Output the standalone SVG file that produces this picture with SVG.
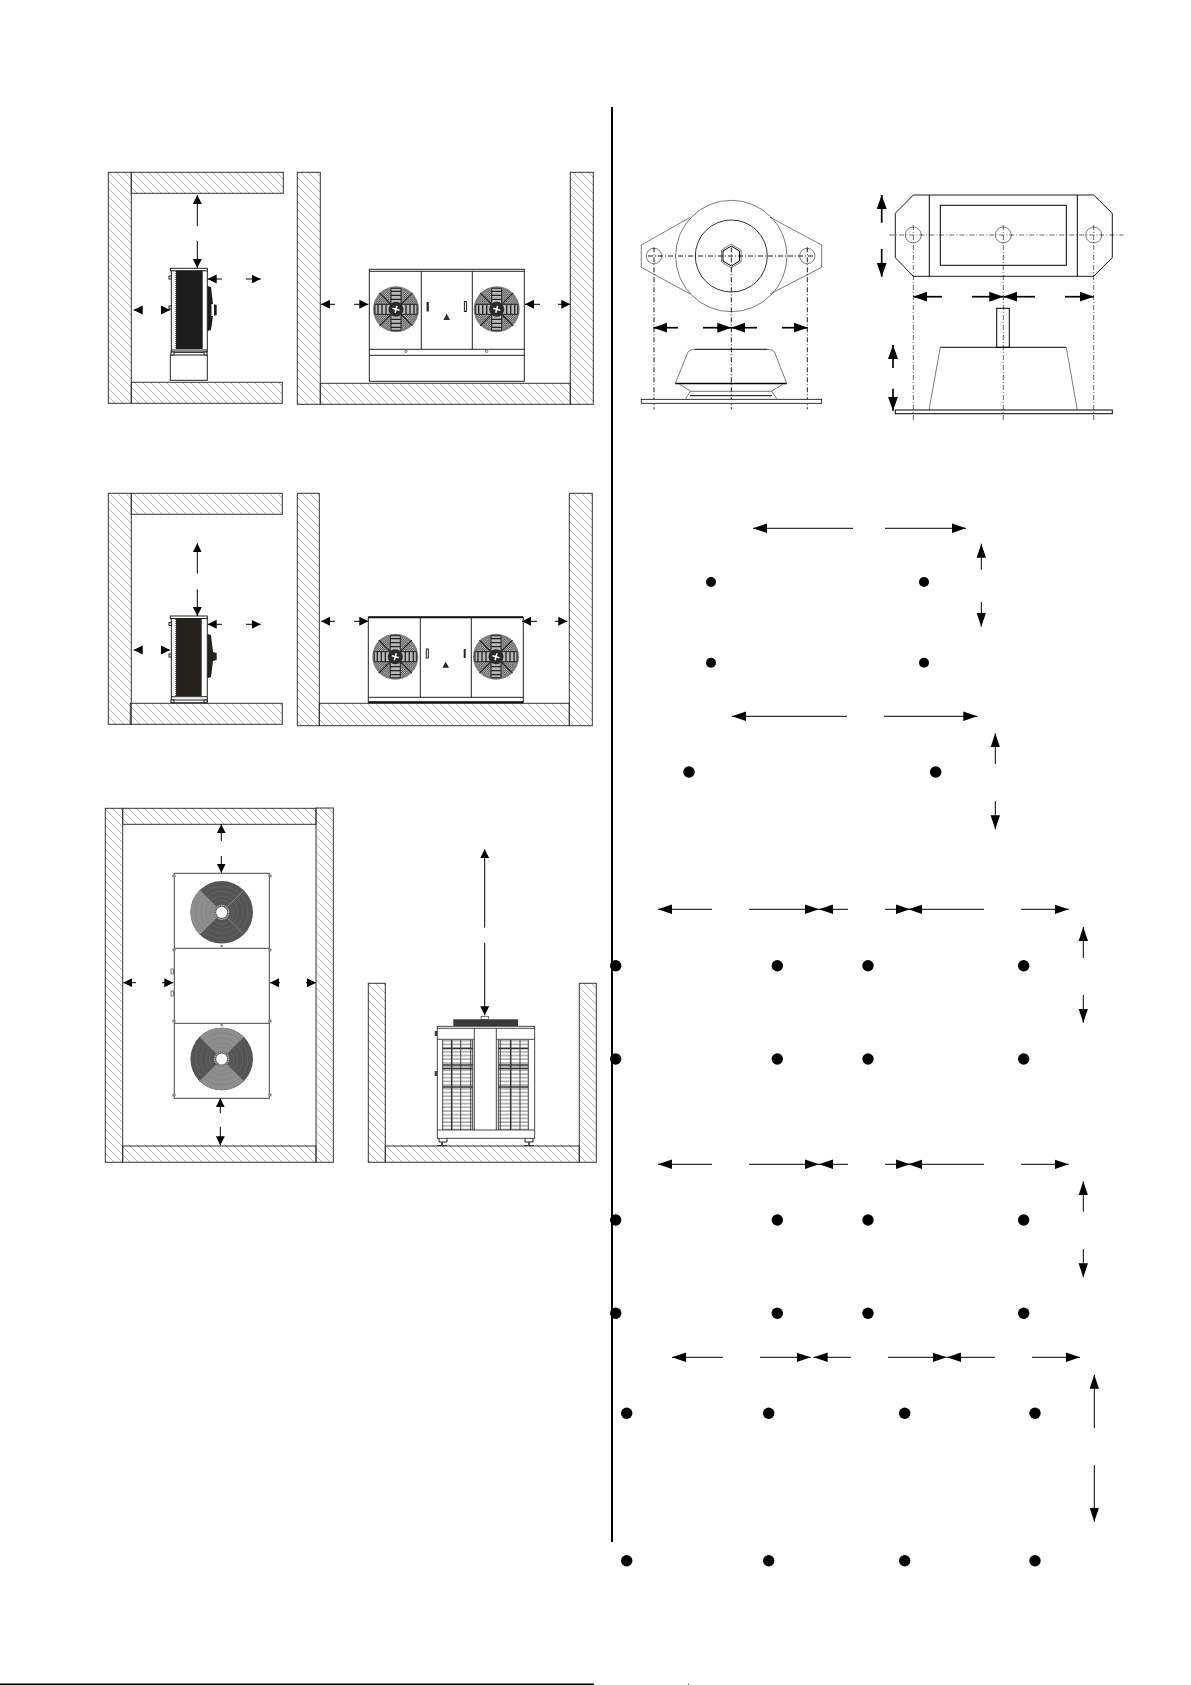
<svg xmlns="http://www.w3.org/2000/svg" xmlns:xlink="http://www.w3.org/1999/xlink" width="1191" height="1685" viewBox="0 0 1191 1685">
<style>
.w{fill:url(#h);stroke:#333;stroke-width:1}
.u{fill:#fff;stroke:#222;stroke-width:1}
.n{fill:none;stroke:#222;stroke-width:1}
.g{fill:none;stroke:#444;stroke-width:.7}
.b{fill:none;stroke:#000;stroke-width:1}
.c{fill:none;stroke:#000;stroke-width:.9;stroke-dasharray:5 2 1 2}
.d{fill:#1c1c1c}
.a line,line.a{stroke:#000;stroke-width:1}
.s line{marker-end:url(#s)}
.m line{marker-end:url(#m)}
.t line{marker-end:url(#t);stroke-width:1.7}
.p circle{fill:#000}
</style>
<defs>
<pattern id="h" width="8" height="8" patternUnits="userSpaceOnUse"><path d="M-1 -1L9 9M-1 7L1 9M7 -1L9 1" stroke="#777" stroke-width=".5" fill="none"/></pattern>
<pattern id="f" width="2.2" height="2.2" patternUnits="userSpaceOnUse"><path d="M0 2.2L2.2 0" stroke="#333" stroke-width=".8"/></pattern>
<pattern id="r" width="10" height="3.7" patternUnits="userSpaceOnUse"><path d="M0 1H10" stroke="#333" stroke-width=".7"/></pattern>
<marker id="s" markerUnits="userSpaceOnUse" markerWidth="10" markerHeight="10" refX="9" refY="5" orient="auto"><path d="M0 .5L9 5L0 9.5z"/></marker>
<marker id="m" markerUnits="userSpaceOnUse" markerWidth="15" markerHeight="10" refX="14" refY="5" orient="auto"><path d="M0 .3L14 5L0 9.7z"/></marker>
<marker id="t" markerUnits="userSpaceOnUse" markerWidth="15" markerHeight="11" refX="14" refY="5.5" orient="auto"><path d="M0 .5L14 5.5L0 10.5z"/></marker>
<g id="fan">
<circle r="23" fill="#7e7e7e"/>
<circle r="20" fill="#c4c4c4"/>
<circle r="20" fill="url(#f)"/>
<path d="M-16.500 -16.500L16.500 16.500M-16.500 16.500L16.500 -16.500" stroke="#222" stroke-width="1.200"/>
<path d="M-5 -21h10v42h-10zM-21 -5h42v10h-42z" fill="#b8b8b8" stroke="#222" stroke-width="1"/>
<path d="M-5 -18h10M-5 -14h10M-5 -10h10M-5 10h10M-5 14h10M-5 18h10M-18 -5v10M-14 -5v10M-10 -5v10M10 -5v10M14 -5v10M18 -5v10" stroke="#222" stroke-width="1.300"/>
<circle r="7.500" fill="#2a2a2a"/>
<path d="M-3.500 -1L3.500 1M-1 3.500L1 -3.500" stroke="#fff" stroke-width="1.500"/>
</g>
<g id="rings" fill="none" stroke="#777" stroke-width=".4"><circle r="26"/><circle r="21"/><circle r="16"/><circle r="12"/></g>
</defs>
<rect width="1191" height="1685" fill="#fff"/>

<g id="wall-side-1"><rect class="w" x="108.300" y="172.300" width="23" height="231"/><rect class="w" x="131.300" y="172.300" width="152" height="21"/><rect class="w" x="131.300" y="382.300" width="151" height="21"/></g>
<g id="wall-front-1"><rect class="w" x="297.300" y="172.300" width="23" height="232"/><rect class="w" x="570.300" y="172.300" width="23" height="232"/><rect class="w" x="320.300" y="383.300" width="250" height="21"/></g>
<g id="unit-side-1">
<rect class="u" x="170.300" y="355" width="37" height="25.300"/>
<rect class="u" x="171.300" y="270" width="36" height="82"/>
<rect class="u" x="170.300" y="268.300" width="37" height="2.500"/>
<rect class="d" x="176" y="270.500" width="26.700" height="78.500"/>
<path d="M175.500 271V349" stroke="#777" stroke-width="1.200" stroke-dasharray="1 1"/>
<path d="M171 350H207M171 352.300H207" class="n"/>
<rect class="u" x="171" y="352" width="3" height="3"/><rect class="u" x="204" y="352" width="3" height="3"/>
<rect class="u" x="169" y="276" width="2.300" height="3"/><rect class="u" x="169" y="306" width="2.300" height="3"/>
<path class="d" d="M207.500 286L211 287L213 304L216.700 305V315L213 316L211 330L207.500 331z"/>
<rect x="211.500" y="304" width="2.500" height="12" fill="#fff"/>
</g>
<g id="unit-front-1">
<rect class="u" x="369.300" y="269.300" width="155" height="112"/>
<path class="n" d="M369.300 271.300H524.300M421.300 271.300V349.300M472.300 271.300V349.300M369.300 349.300H524.300M369.300 355.300H524.300"/>
<use xlink:href="#fan" href="#fan" x="396" y="309.300"/><use xlink:href="#fan" href="#fan" x="496.700" y="309.300"/>
<path d="M427.700 302V311.500" stroke="#222" stroke-width="2.200"/><rect class="n" x="464.400" y="301.500" width="2" height="10"/>
<path d="M446.700 313.500L450 320H443.400z" fill="#333"/>
<circle class="g" cx="406" cy="351.300" r="1.200"/><circle class="g" cx="486.700" cy="351.300" r="1.200"/>
</g>

<g id="wall-side-2"><rect class="w" x="108.300" y="493.300" width="23" height="231"/><rect class="w" x="131.300" y="493.300" width="151" height="21"/><rect class="w" x="130.300" y="703.300" width="152" height="21"/></g>
<g id="wall-front-2"><rect class="w" x="297.300" y="493.300" width="22" height="232.400"/><rect class="w" x="569.300" y="493.300" width="23" height="232.400"/><rect class="w" x="319.300" y="703.300" width="250" height="22.400"/></g>
<g id="unit-side-2">
<rect class="u" x="171.300" y="618" width="36" height="84.700"/>
<rect class="u" x="170.300" y="616" width="37" height="2.500"/>
<rect x="176" y="618.300" width="25.700" height="77.700" fill="#24211c"/>
<path d="M175.500 619V696" stroke="#777" stroke-width="1.200" stroke-dasharray="1 1"/>
<path class="n" d="M171 696.700H207M171 700H207"/>
<rect class="u" x="171" y="700" width="3" height="2.700"/><rect class="u" x="204" y="700" width="3" height="2.700"/>
<rect class="u" x="169" y="622.500" width="2.300" height="3"/><rect class="u" x="169" y="654" width="2.300" height="3"/>
<path d="M207.500 634L211 635L213 652L216.700 653V660L213 661L211 677L207.500 678.300z" fill="#24211c"/>
</g>
<g id="unit-front-2">
<rect class="u" x="368.300" y="617.300" width="155" height="85"/>
<path d="M368.300 617.300H523.300M368.300 702.300H523.300" stroke="#111" stroke-width="2"/>
<path class="n" d="M420.300 617.300V697.300M471.300 617.300V697.300M368.300 697.300H523.300"/>
<use xlink:href="#fan" href="#fan" x="395.300" y="656.700"/><use xlink:href="#fan" href="#fan" x="496" y="656.700"/>
<rect class="n" x="426.300" y="649" width="2" height="9"/><path d="M464.700 649V658" stroke="#222" stroke-width="2"/>
<path d="M445.700 661.700L449 667.700H442.400z" fill="#222"/>
</g>

<g id="wall-top-3"><rect class="w" x="105.300" y="808.300" width="17.400" height="354"/><rect class="w" x="316" y="808" width="17.300" height="354.300"/><rect class="w" x="122.700" y="808.300" width="193.300" height="16"/><rect class="w" x="122.700" y="1146" width="193.300" height="16.300"/></g>
<g id="unit-top-3">
<rect x="174.300" y="873.300" width="95" height="225" fill="#fff" stroke="#444" stroke-width="1"/>
<path d="M174.300 948.300H269.300M174.300 1023.300H269.300" stroke="#444" stroke-width="1"/>
<circle cx="221.700" cy="912.300" r="31.300" fill="#555"/>
<path d="M221.700 912.300L199.600 890.200A31.300 31.300 0 0 0 199.600 934.400z" fill="#8e8e8e"/>
<use xlink:href="#rings" href="#rings" x="221.700" y="912.300"/>
<path d="M221.700 912.300L199.600 890.200M221.700 912.300L199.600 934.400M221.700 912.300L243.800 890.200M221.700 912.300L243.800 934.400" stroke="#999" stroke-width=".7"/>
<circle cx="221.700" cy="912.300" r="8" fill="#666"/><circle cx="221.700" cy="912.300" r="7" fill="none" stroke="#ddd" stroke-width="1" stroke-dasharray="1 1"/><circle cx="221.700" cy="912.300" r="5.500" fill="#fff"/>
<circle cx="221.700" cy="1059" r="31.300" fill="#555"/>
<path d="M221.700 1059L199.600 1036.900A31.300 31.300 0 0 1 243.800 1036.900zM221.700 1059L199.600 1081.100A31.300 31.300 0 0 0 243.800 1081.100z" fill="#8e8e8e"/>
<use xlink:href="#rings" href="#rings" x="221.700" y="1059"/>
<circle cx="221.700" cy="1059" r="8" fill="#666"/><circle cx="221.700" cy="1059" r="7" fill="none" stroke="#ddd" stroke-width="1" stroke-dasharray="1 1"/><circle cx="221.700" cy="1059" r="5.500" fill="#fff"/>
<rect class="g" x="171" y="969" width="2.500" height="5"/><rect class="g" x="171" y="991" width="2.500" height="5"/>
<g fill="#888"><circle cx="221.700" cy="946" r="1.300"/><circle cx="221.700" cy="1025" r="1.300"/><circle cx="174" cy="950" r="1.800"/><circle cx="270" cy="950" r="1.800"/><circle cx="174" cy="1021" r="1.800"/><circle cx="270" cy="1021" r="1.800"/><circle cx="174" cy="876" r="1.800"/><circle cx="270" cy="876" r="1.800"/><circle cx="174" cy="1095" r="1.800"/><circle cx="270" cy="1095" r="1.800"/></g>
</g>
<g id="wall-front-3"><rect class="w" x="368.300" y="983.300" width="17" height="179"/><rect class="w" x="579.300" y="983.300" width="17" height="179"/><rect class="w" x="385.300" y="1146" width="194" height="16.300"/></g>
<g id="unit-front-3">
<rect x="453.300" y="1019.300" width="64.700" height="6.700" fill="#3a3a3a"/>
<rect class="g" x="481" y="1016.500" width="7.500" height="3"/>
<rect x="437.300" y="1026.300" width="97.400" height="112" fill="#fff" stroke="#333" stroke-width=".9"/>
<path stroke="#333" stroke-width=".9" fill="none" d="M437.300 1028.300H534.700M437.300 1039.300H474.300M496.300 1039.300H534.700M437.300 1130H534.700M474.300 1028V1130M496.300 1028V1130"/>
<rect x="442.700" y="1040" width="30" height="90" fill="url(#r)"/>
<rect x="498.300" y="1040" width="30" height="90" fill="url(#r)"/>
<path stroke="#333" stroke-width=".9" fill="none" d="M442.700 1040V1130M460.700 1040V1130M470.700 1040V1130M472.700 1040V1130M498.300 1040V1130M500.300 1040V1130M520 1040V1130M528.300 1040V1130"/>
<path stroke="#333" stroke-width="1.500" fill="none" d="M451.700 1040V1130M510.700 1040V1130M442.700 1048.500H472.700M498.300 1048.500H528.300M442.700 1065H472.700M498.300 1065H528.300M442.700 1068.500H472.700M498.300 1068.500H528.300M442.700 1087H472.700M498.300 1087H528.300"/>
<rect x="434.700" y="1031" width="2.600" height="5" fill="#444"/><rect x="434.700" y="1071" width="2.600" height="5" fill="#444"/>
<path class="n" d="M439 1138.300V1142H447V1138.300M525 1138.300V1142H533V1138.300"/>
<path d="M437 1145.500H447M524 1145.500H534" stroke="#333" stroke-width="1.200"/>
<path d="M442 1142V1145M529 1142V1145" stroke="#333" stroke-width="1.500"/>
</g>

<g id="divider"><rect x="611" y="107" width="2" height="1435" fill="#000"/></g>
<g id="footer-rule"><rect x="0" y="1683.500" width="594" height="1.500" fill="#000"/><rect x="688" y="1684" width="1" height="1" fill="#111"/></g>

<g id="mount-round">
<path class="g" d="M690.300 217.300L641.300 245V267.300L690.300 294M770 217.300L821.700 245V267.300L770 294"/>
<circle class="g" cx="731.300" cy="256" r="55.700"/>
<circle class="b" cx="731.300" cy="256" r="36" style="stroke-width:.8"/>
<path class="g" d="M731.300 244.200L741 250V262L731.300 267.800L721.600 262V250z"/>
<path class="b" d="M731.300 246L739.500 251V261L731.300 266L723 261V251z"/>
<circle class="g" cx="654" cy="256" r="7.700"/><circle class="g" cx="807.300" cy="256" r="7.700"/>
<path class="c" d="M648 256H813.300M654 247.300V409.300M731.300 247.300V409.300M807.300 247.300V409.300"/>
<path class="b" d="M695 349.300H767.300"/>
<path class="g" d="M695 349.300Q689 349.500 688 352L675.300 383.300M767.300 349.300Q773 349.500 774.500 352L786.700 383.300M679.300 384.300L690.700 391L685.700 398.700M783 384.300L771.700 391L776.700 398.700M690.700 391.300H771.700"/>
<path d="M675.300 383.500H786.700" stroke="#000" stroke-width="1.500"/>
<path class="b" d="M690 395.700H772"/>
<rect class="u" x="641.300" y="399.300" width="180.400" height="4" style="stroke:#000;stroke-width:.8"/>
</g>
<g id="mount-rect">
<path class="b" d="M913.300 195H1093.700L1112.300 213.300V257.700L1093.700 276.300H913.300L895.300 257.700V213.300z" style="stroke-width:.9"/>
<path class="b" d="M929.300 195V276.300M1077.300 195V276.300"/>
<rect class="b" x="940.300" y="205.300" width="126" height="60"/>
<circle class="g" cx="913.300" cy="235" r="8"/><circle class="g" cx="1003.300" cy="235" r="8"/><circle class="g" cx="1093.700" cy="235" r="8"/>
<path class="c" style="stroke-width:.6" d="M889.300 235H1123.300M913.300 225V421.700M1003.300 225V421.700M1093.700 225V421.700"/>
<rect class="b" x="996.700" y="308.300" width="12.600" height="39"/>
<path class="b" d="M940.300 347.300H1066.300"/>
<path class="g" d="M940.300 347.300L929 410M1066.300 347.300L1077.300 410"/>
<rect class="b" x="895.300" y="410" width="217" height="3.700"/>
</g>

<g id="dots" class="p">
<circle cx="711" cy="582" r="5"/><circle cx="924" cy="582" r="5"/><circle cx="711" cy="662.700" r="5"/><circle cx="924" cy="662.700" r="5"/>
<circle cx="689" cy="772" r="5.800"/><circle cx="935.700" cy="772" r="5.800"/>
<circle cx="615.700" cy="965.700" r="5.700"/><circle cx="777.300" cy="965.700" r="5.700"/><circle cx="868" cy="965.700" r="5.700"/><circle cx="1023.700" cy="965.700" r="5.700"/>
<circle cx="615.700" cy="1059" r="5.700"/><circle cx="777.300" cy="1059" r="5.700"/><circle cx="868" cy="1059" r="5.700"/><circle cx="1023.700" cy="1059" r="5.700"/>
<circle cx="615.700" cy="1220" r="5.700"/><circle cx="777.300" cy="1220" r="5.700"/><circle cx="868" cy="1220" r="5.700"/><circle cx="1023.700" cy="1220" r="5.700"/>
<circle cx="615.700" cy="1313.300" r="5.700"/><circle cx="777.300" cy="1313.300" r="5.700"/><circle cx="868" cy="1313.300" r="5.700"/><circle cx="1023.700" cy="1313.300" r="5.700"/>
<circle cx="626.700" cy="1413.300" r="5.700"/><circle cx="768.700" cy="1413.300" r="5.700"/><circle cx="904.700" cy="1413.300" r="5.700"/><circle cx="1035" cy="1413.300" r="5.700"/>
<circle cx="626.700" cy="1560.700" r="5.700"/><circle cx="768.700" cy="1560.700" r="5.700"/><circle cx="904.700" cy="1560.700" r="5.700"/><circle cx="1035" cy="1560.700" r="5.700"/>
</g>

<g id="connectors" class="a">
<g class="s">
<line x1="197.300" y1="226" x2="197.300" y2="195"/><line x1="197.300" y1="241" x2="197.300" y2="268"/>
<line x1="142.700" y1="310" x2="133.700" y2="310"/><line x1="161" y1="310" x2="170" y2="310"/>
<line x1="222" y1="279" x2="207.700" y2="279"/><line x1="246" y1="279" x2="260.700" y2="279"/>
<line x1="335" y1="304.300" x2="321" y2="304.300"/><line x1="354" y1="304.300" x2="368.300" y2="304.300"/>
<line x1="540" y1="304.300" x2="525" y2="304.300"/><line x1="558" y1="304.300" x2="570.300" y2="304.300"/>
<line x1="197.300" y1="573.700" x2="197.300" y2="543.300"/><line x1="197.300" y1="589.300" x2="197.300" y2="616"/>
<line x1="142.700" y1="650" x2="133.700" y2="650"/><line x1="161" y1="650" x2="170" y2="650"/>
<line x1="222" y1="624.300" x2="207.700" y2="624.300"/><line x1="246" y1="624.300" x2="260.700" y2="624.300"/>
<line x1="335" y1="621.300" x2="321" y2="621.300"/><line x1="354" y1="621.300" x2="368.300" y2="621.300"/>
<line x1="537" y1="621.300" x2="522" y2="621.300"/><line x1="555" y1="621.300" x2="567.300" y2="621.300"/>
<line x1="221.300" y1="841" x2="221.300" y2="824.300"/><line x1="221.300" y1="856" x2="221.300" y2="872.700"/>
<line x1="220.300" y1="1113" x2="220.300" y2="1098.300"/><line x1="220.300" y1="1127" x2="220.300" y2="1145.300"/>
<line x1="136" y1="982.700" x2="123.300" y2="982.700"/><line x1="162" y1="982.700" x2="173.300" y2="982.700"/>
<line x1="280" y1="982.700" x2="270" y2="982.700"/><line x1="306" y1="982.700" x2="316" y2="982.700"/>
<line x1="484.700" y1="927.700" x2="484.700" y2="849.300"/><line x1="484.700" y1="943" x2="484.700" y2="1015.300"/>
</g>
<g class="t">
<line x1="678" y1="327.700" x2="653.300" y2="327.700"/><line x1="703" y1="327.700" x2="731.300" y2="327.700"/>
<line x1="757" y1="327.700" x2="731.300" y2="327.700"/><line x1="782" y1="327.700" x2="807.700" y2="327.700"/>
<line x1="881.700" y1="222.700" x2="881.700" y2="195"/><line x1="881.700" y1="249" x2="881.700" y2="276.700"/>
<line x1="942" y1="296.700" x2="913.300" y2="296.700"/><line x1="972" y1="296.700" x2="1003.300" y2="296.700"/>
<line x1="1035" y1="296.700" x2="1003.300" y2="296.700"/><line x1="1065" y1="296.700" x2="1093.700" y2="296.700"/>
<line x1="893" y1="368" x2="893" y2="345"/><line x1="893" y1="388.700" x2="893" y2="410.700"/>
</g>
<g class="m">
<line x1="853" y1="528.300" x2="753" y2="528.300"/><line x1="885" y1="528.300" x2="966" y2="528.300"/>
<line x1="981.300" y1="569.700" x2="981.300" y2="543.700"/><line x1="981.300" y1="602" x2="981.300" y2="626.700"/>
<line x1="847" y1="716.300" x2="732" y2="716.300"/><line x1="884" y1="716.300" x2="977.300" y2="716.300"/>
<line x1="995.300" y1="764" x2="995.300" y2="733.300"/><line x1="995.300" y1="801" x2="995.300" y2="829.300"/>
<line x1="712" y1="909.300" x2="658" y2="909.300"/><line x1="749" y1="909.300" x2="819" y2="909.300"/>
<line x1="848" y1="909.300" x2="819" y2="909.300"/><line x1="885" y1="909.300" x2="910" y2="909.300"/>
<line x1="984" y1="909.300" x2="908.300" y2="909.300"/><line x1="1021" y1="909.300" x2="1068.700" y2="909.300"/>
<line x1="1083.300" y1="958" x2="1083.300" y2="927"/><line x1="1083.300" y1="995" x2="1083.300" y2="1022.700"/>
<line x1="712" y1="1164.300" x2="658" y2="1164.300"/><line x1="749" y1="1164.300" x2="819" y2="1164.300"/>
<line x1="848" y1="1164.300" x2="819" y2="1164.300"/><line x1="885" y1="1164.300" x2="910" y2="1164.300"/>
<line x1="984" y1="1164.300" x2="908.300" y2="1164.300"/><line x1="1021" y1="1164.300" x2="1068.700" y2="1164.300"/>
<line x1="1083.300" y1="1211.700" x2="1083.300" y2="1181.300"/><line x1="1083.300" y1="1249" x2="1083.300" y2="1277.300"/>
<line x1="723" y1="1357.300" x2="672" y2="1357.300"/><line x1="760" y1="1357.300" x2="810.700" y2="1357.300"/>
<line x1="851" y1="1357.300" x2="813.700" y2="1357.300"/><line x1="888" y1="1357.300" x2="946.700" y2="1357.300"/>
<line x1="995" y1="1357.300" x2="947" y2="1357.300"/><line x1="1032" y1="1357.300" x2="1080" y2="1357.300"/>
<line x1="1094.300" y1="1428" x2="1094.300" y2="1374.700"/><line x1="1094.300" y1="1465" x2="1094.300" y2="1521.700"/>
</g>
</g>
</svg>
